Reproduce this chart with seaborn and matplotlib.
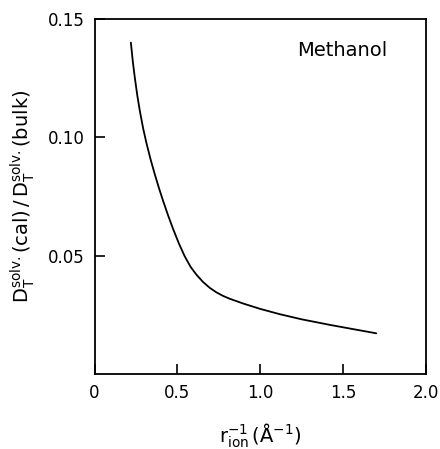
import numpy as np
import pandas as pd
import seaborn as sns
import matplotlib.pyplot as plt

# valores
inv_r = [0.219, 0.231, 0.243, 0.258, 0.273, 0.293, 0.313, 0.338, 0.363, 0.388, 0.413,
         0.443, 0.474, 0.509, 0.544, 0.579, 0.614, 0.654, 0.695, 0.735, 0.775, 0.815,
         0.90, 1.0, 1.116, 1.25, 1.417, 1.55, 1.70]
razao_d = [0.140, 0.1318, 0.1251, 0.1176, 0.1112, 0.1038, 0.0976, 0.0907, 0.0845, 0.0787, 0.0733,
           0.0672, 0.0613, 0.0552, 0.0498, 0.0454, 0.0421, 0.0390, 0.0365, 0.0346, 0.0331, 0.0319,
           0.0298, 0.0276, 0.0254, 0.0232, 0.0209, 0.0192, 0.0173]
xticks = [0, 0.5, 1.0, 1.5, 2.0]
xtick_labels = ["0", "0.5", "1.0", "1.5", "2.0"]
yticks = [0.05, 0.10, 0.15]
ytick_labels = ["0.05", "0.10", "0.15"]
rotulo = "Methanol"

df = pd.DataFrame({"x": inv_r, "y": razao_d})

sns.set_style("ticks")
plt.rcParams["font.family"] = ["DejaVu Sans"]
plt.rcParams["mathtext.fontset"] = "dejavusans"

fig = plt.figure(figsize=(4.4, 4.49), dpi=100)
ax = fig.add_axes([0.215, 0.1664, 0.753, 0.7914])
sns.lineplot(data=df, x="x", y="y", ax=ax, color="black", linewidth=1.3)

ax.set_xlim(0, 2.0)
ax.set_ylim(0, 0.15)
ax.set_xticks(xticks)
ax.set_xticklabels(xtick_labels)
ax.set_yticks(yticks)
ax.set_yticklabels(ytick_labels)
ax.tick_params(direction="in", length=7, width=1.2, labelsize=12, colors="black", pad=7)
for s in ax.spines.values():
    s.set_linewidth(1.3)
    s.set_color("black")

ax.text(1.495, 0.1366, rotulo, fontsize=14, ha="center", va="center", color="black")
ax.set_xlabel(r"$\mathrm{r_{ion}^{-1}\,(\AA^{-1})}$", fontsize=14, labelpad=14, color="black")
ax.set_ylabel(r"$\mathrm{D_T^{solv.}(cal)\,/\,D_T^{solv.}(bulk)}$", fontsize=14, labelpad=8,
              color="black")

fig.savefig("out.png", dpi=100)
